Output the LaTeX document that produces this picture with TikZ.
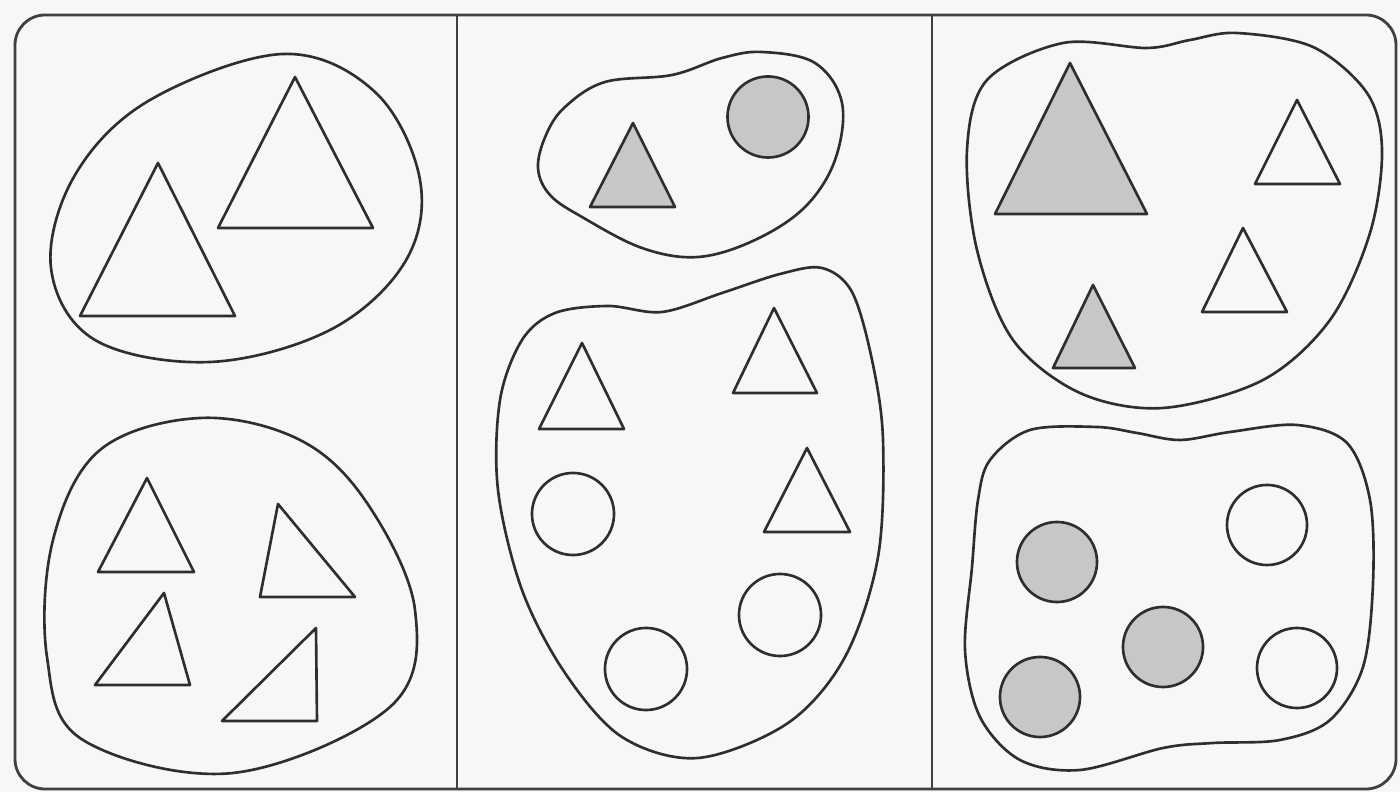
\documentclass[tikz,border=0pt]{standalone}
\begin{document}
\begin{tikzpicture}[x=0.01cm,y=-0.01cm,line join=round,
  ink/.style={draw=black!82,line width=0.75pt},
  shade/.style={fill=black!22},
  framestyle/.style={draw=black!75,line width=0.8pt}]
\fill[black!3] (0,0) rectangle (1400,792);
\useasboundingbox (0,0) rectangle (1400,792);
% frame and dividers
\draw[framestyle,rounded corners=0.3cm] (15,15) rectangle (1396,789);
\draw[framestyle] (457,15) -- (457,789);
\draw[framestyle] (932,15) -- (932,789);

% ---------- panel 1 ----------
\draw[ink] plot[smooth cycle,tension=0.6] coordinates {(283,54) (375,92) (420,180) (405,262) (330,330) (210,362) (95,340) (51,268) (75,175) (150,100)};
\draw[ink] (158,163) -- (80,316) -- (235,316) -- cycle;
\draw[ink] (295,77) -- (218,228) -- (373,228) -- cycle;

\draw[ink] plot[smooth cycle,tension=0.6] coordinates {(200,418) (300,440) (367,503) (415,610) (390,707) (233,773) (83,740) (47,657) (53,540) (100,450)};
\draw[ink] (147,478) -- (98,572) -- (194,572) -- cycle;
\draw[ink] (278,504) -- (260,597) -- (355,597) -- cycle;
\draw[ink] (164,593) -- (95,685) -- (190,685) -- cycle;
\draw[ink] (316,628) -- (222,721) -- (317,721) -- cycle;

% ---------- panel 2 ----------
\draw[ink] plot[smooth cycle,tension=0.6] coordinates {(538,168) (546,135) (565,107) (605,82) (672,75) (722,58) (762,52) (815,63) (842,103) (835,160) (805,207) (755,240) (698,257) (642,248) (582,217) (550,195)};
\draw[ink,shade] (633,123) -- (590,207) -- (675,207) -- cycle;
\draw[ink,shade] (768,117) circle[radius=0.405cm];

\draw[ink] plot[smooth cycle,tension=0.55] coordinates {(500,400) (522,340) (555,313) (608,306) (662,312) (722,293) (780,274) (822,268) (852,292) (872,360) (883,440) (878,557) (845,657) (788,723) (698,758) (622,737) (565,673) (522,590) (498,490)};
\draw[ink] (582,343) -- (539,429) -- (624,429) -- cycle;
\draw[ink] (774,308) -- (733,393) -- (817,393) -- cycle;
\draw[ink] (807,448) -- (764,532) -- (850,532) -- cycle;
\draw[ink] (573,514) circle[radius=0.41cm];
\draw[ink] (780,615) circle[radius=0.41cm];
\draw[ink] (646,669) circle[radius=0.41cm];

% ---------- panel 3 ----------
\draw[ink] plot[smooth cycle,tension=0.55] coordinates {(967,150) (987,80) (1063,43) (1147,48) (1190,40) (1237,33) (1313,47) (1367,93) (1382,150) (1370,233) (1330,320) (1263,380) (1163,408) (1080,393) (1013,340) (977,250)};
\draw[ink,shade] (1070,63) -- (995,214) -- (1147,214) -- cycle;
\draw[ink,shade] (1093,285) -- (1053,368) -- (1135,368) -- cycle;
\draw[ink] (1297,100) -- (1255,184) -- (1340,184) -- cycle;
\draw[ink] (1243,228) -- (1202,312) -- (1287,312) -- cycle;

\draw[ink] plot[smooth cycle,tension=0.55] coordinates {(990,460) (1030,430) (1097,427) (1137,433) (1180,440) (1230,432) (1297,425) (1347,443) (1370,500) (1373,583) (1363,667) (1330,720) (1280,740) (1213,743) (1163,748) (1080,770) (1020,760) (980,717) (965,650) (972,567) (978,500)};
\draw[ink,shade] (1057,562) circle[radius=0.4cm];
\draw[ink,shade] (1163,647) circle[radius=0.4cm];
\draw[ink,shade] (1040,697) circle[radius=0.4cm];
\draw[ink] (1267,525) circle[radius=0.4cm];
\draw[ink] (1297,668) circle[radius=0.4cm];
\end{tikzpicture}
\end{document}
